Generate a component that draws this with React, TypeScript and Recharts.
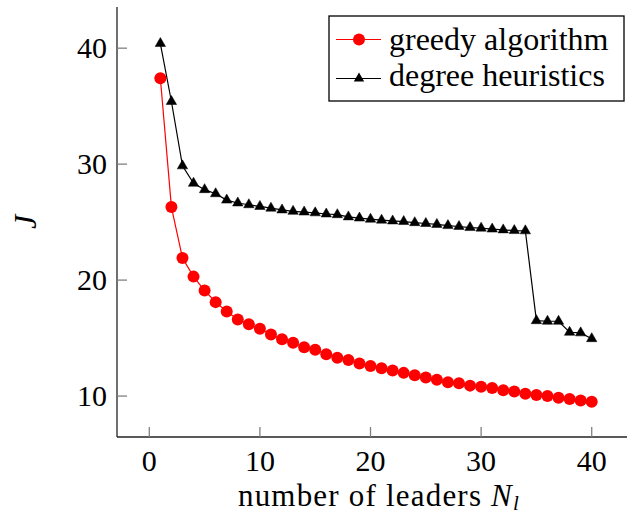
import { LineChart, Line, XAxis, YAxis } from "recharts";

// number of leaders N_l
const leaders = [
  1, 2, 3, 4, 5, 6, 7, 8, 9, 10, 11, 12, 13, 14, 15, 16, 17, 18, 19, 20,
  21, 22, 23, 24, 25, 26, 27, 28, 29, 30, 31, 32, 33, 34, 35, 36, 37, 38, 39, 40,
];

// J for the greedy algorithm
const greedyJ = [
  37.4, 26.3, 21.9, 20.3, 19.1, 18.1, 17.3, 16.6, 16.2, 15.8,
  15.3, 14.9, 14.6, 14.2, 14.0, 13.6, 13.3, 13.1, 12.8, 12.6,
  12.4, 12.2, 12.0, 11.8, 11.6, 11.4, 11.2, 11.1, 10.9, 10.8,
  10.7, 10.5, 10.4, 10.2, 10.1, 10.0, 9.85, 9.74, 9.62, 9.5,
];

// J for the degree heuristics
const degreeJ = [
  40.4, 35.4, 29.85, 28.35, 27.8, 27.45, 26.9, 26.65, 26.5, 26.35,
  26.2, 26.05, 25.93, 25.87, 25.8, 25.7, 25.64, 25.45, 25.35, 25.25,
  25.17, 25.1, 25.05, 24.95, 24.88, 24.8, 24.7, 24.62, 24.53, 24.48,
  24.4, 24.33, 24.27, 24.25, 16.5, 16.45, 16.45, 15.5, 15.45, 14.95,
];

const xTicks = [0, 10, 20, 30, 40];
const yTicks = [10, 20, 30, 40];

const data = leaders.map((n, i) => ({ n, greedy: greedyJ[i], degree: degreeJ[i] }));

const FONT = "Liberation Serif";
const TICK_LEN = 10;
const TICK_COLOR = "#808080";
const AXIS_COLOR = "#222";
const X_DOMAIN = [-2.92, 43.19];
const Y_DOMAIN = [6.47, 43.55];

const BottomTick = ({ x, y, payload }: any) => (
  <g>
    <line x1={x} x2={x} y1={y} y2={y - TICK_LEN} stroke={TICK_COLOR} strokeWidth={1.3} />
    <text x={x} y={y + 34} textAnchor="middle" fontSize={30} fontFamily={FONT} fill="#000">
      {payload.value}
    </text>
  </g>
);

const TopTick = ({ x, y }: any) => (
  <line x1={x} x2={x} y1={y} y2={y + TICK_LEN} stroke={TICK_COLOR} strokeWidth={1.3} />
);

const LeftTick = ({ x, y, payload }: any) => (
  <g>
    <line x1={x} x2={x + TICK_LEN} y1={y} y2={y} stroke={TICK_COLOR} strokeWidth={1.3} />
    <text x={x - 10} y={y + 10} textAnchor="end" fontSize={30} fontFamily={FONT} fill="#000">
      {payload.value}
    </text>
  </g>
);

// right border sits just past the picture edge; only the tick tips show
const RightTick = ({ x, y }: any) => (
  <line x1={x} x2={x - 4} y1={y} y2={y} stroke={TICK_COLOR} strokeWidth={1.3} />
);

const triPoints = (cx: number, cy: number, r: number) =>
  `${cx},${cy - r} ${cx + r * 0.866},${cy + r / 2} ${cx - r * 0.866},${cy + r / 2}`;

const TriangleDot = (props: any) => {
  const { cx, cy, index } = props;
  if (cx == null || cy == null) return <g key={index} />;
  return <polygon key={index} points={triPoints(cx, cy, 6)} fill="#000" stroke="#000" strokeWidth={0.5} />;
};

const XLabel = ({ viewBox }: any) => (
  <text
    x={viewBox.x + viewBox.width / 2 + 7}
    y={viewBox.y + 69}
    textAnchor="middle"
    fontSize={31}
    letterSpacing={1.2}
    fontFamily={FONT}
    fill="#000"
  >
    number of leaders{" "}
    <tspan fontStyle="italic">N</tspan>
    <tspan fontStyle="italic" fontSize={21} dy={4}>l</tspan>
  </text>
);

const YLabel = ({ viewBox }: any) => {
  const cx = 25;
  const cy = viewBox.y + viewBox.height / 2;
  return (
    <text
      x={cx}
      y={cy}
      textAnchor="middle"
      dominantBaseline="central"
      transform={`rotate(-90 ${cx} ${cy})`}
      fontSize={32}
      fontStyle="italic"
      fontFamily={FONT}
      fill="#000"
    >
      J
    </text>
  );
};

function ChartLegend() {
  return (
    <svg width={298} height={88} style={{ position: "absolute", left: 328, top: 15 }}>
      <rect x={1} y={1} width={295} height={85} fill="#fff" stroke="#000" strokeWidth={1.3} />
      <line x1={8} x2={53} y1={24.5} y2={24.5} stroke="#ff0000" strokeWidth={1.2} />
      <circle cx={31} cy={24.5} r={6} fill="#ff0000" />
      <text x={61} y={35} fontSize={32} fontFamily={FONT} fill="#000">
        greedy algorithm
      </text>
      <line x1={8} x2={53} y1={63.5} y2={63.5} stroke="#000" strokeWidth={1.2} />
      <polygon points={triPoints(31, 63.5, 6)} fill="#000" />
      <text x={61} y={71} fontSize={32} fontFamily={FONT} fill="#000">
        degree heuristics
      </text>
    </svg>
  );
}

export default function App() {
  return (
    <div style={{ position: "relative", width: 627, height: 514, fontFamily: FONT }}>
      <style>{"body{margin:0} svg text{font-family:'Liberation Serif'}"}</style>
      <LineChart width={627} height={514} data={data} margin={{ top: 7, right: 0, bottom: 0, left: 0 }}>
        <XAxis
          xAxisId="bottom"
          dataKey="n"
          type="number"
          domain={X_DOMAIN}
          allowDataOverflow
          ticks={xTicks}
          interval={0}
          height={77}
          tickSize={0}
          tickMargin={0}
          tickLine={false}
          stroke={AXIS_COLOR}
          strokeWidth={1.3}
          tick={<BottomTick />}
          label={<XLabel />}
        />
        <XAxis
          xAxisId="top"
          orientation="top"
          dataKey="n"
          type="number"
          domain={X_DOMAIN}
          allowDataOverflow
          ticks={xTicks}
          interval={0}
          height={0}
          tickSize={0}
          tickMargin={0}
          tickLine={false}
          stroke={AXIS_COLOR}
          strokeWidth={1.3}
          tick={<TopTick />}
        />
        <YAxis
          yAxisId="left"
          type="number"
          domain={Y_DOMAIN}
          allowDataOverflow
          ticks={yTicks}
          interval={0}
          width={117}
          tickSize={0}
          tickMargin={0}
          tickLine={false}
          stroke={AXIS_COLOR}
          strokeWidth={1.3}
          tick={<LeftTick />}
          label={<YLabel />}
        />
        <YAxis
          yAxisId="right"
          orientation="right"
          type="number"
          domain={Y_DOMAIN}
          allowDataOverflow
          ticks={yTicks}
          interval={0}
          width={0}
          tickSize={0}
          tickMargin={0}
          tickLine={false}
          axisLine={false}
          tick={<RightTick />}
        />
        <Line
          xAxisId="bottom"
          yAxisId="left"
          type="linear"
          dataKey="greedy"
          name="greedy algorithm"
          stroke="#ff0000"
          strokeWidth={1.2}
          dot={{ r: 6, fill: "#ff0000", stroke: "#ff0000", strokeWidth: 0 }}
          activeDot={false}
          isAnimationActive={false}
        />
        <Line
          xAxisId="bottom"
          yAxisId="left"
          type="linear"
          dataKey="degree"
          name="degree heuristics"
          stroke="#000"
          strokeWidth={1.2}
          dot={TriangleDot}
          activeDot={false}
          isAnimationActive={false}
        />
      </LineChart>
      <ChartLegend />
    </div>
  );
}
